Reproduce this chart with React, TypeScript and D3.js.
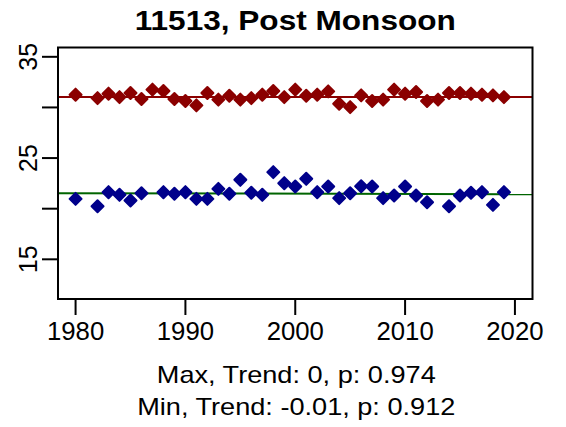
import React, { useEffect, useRef } from 'react';
import * as d3 from 'd3';

// yearly extremes, NaN where a year has no point
const years = d3.range(1980, 2020);
const maxTemp = [
  31.26, NaN, 30.92, 31.36, 31.02, 31.42, 30.83, 31.76, 31.62, 30.83,
  30.63, 30.2, 31.42, 30.77, 31.16, 30.77, 30.92, 31.26, 31.62, 31.02,
  31.76, 31.16, 31.26, 31.59, 30.37, 30.03, 31.19, 30.63, 30.77, 31.76,
  31.36, 31.52, 30.63, 30.77, 31.42, 31.42, 31.36, 31.26, 31.19, 31.02,
];
const minTemp = [
  20.97, NaN, 20.24, 21.63, 21.37, 20.81, 21.53, NaN, 21.63, 21.47,
  21.63, 20.97, 20.97, 21.96, 21.47, 22.85, 21.57, 21.37, 23.61, 22.52,
  22.19, 22.95, 21.63, 22.19, 21.04, 21.53, 22.22, 22.19, 21.04, 21.3,
  22.19, 21.3, 20.64, NaN, 20.24, 21.3, 21.57, 21.63, 20.38, 21.63,
];
// fitted trend lines, value at the left and right edge of the plot
const maxTrend = [31.03, 31.03];
const minTrend = [21.53, 21.43];

const xTicks = [1980, 1990, 2000, 2010, 2020];
const yTicks = [15, 20, 25, 30, 35];
const yLabels = [15, 25, 35];

const title = '11513, Post Monsoon';
const notes = ['Max, Trend: 0, p: 0.974', 'Min, Trend: -0.01, p: 0.912'];

const W = 566, H = 427;
const margin = { top: 47.5, right: 33.5, bottom: 128, left: 58 };
const font = '"Liberation Sans", Arial, sans-serif';

const drawChart = (node: SVGSVGElement) => {
  const svg = d3.select(node);
  svg.selectAll('*').remove();

  const x = d3.scaleLinear().domain([1978.4, 2021.6]).range([margin.left, W - margin.right]);
  const y = d3.scaleLinear().domain([11.08, 35.92]).range([H - margin.bottom, margin.top]);
  const cx = (margin.left + W - margin.right) / 2;

  const plot = svg.append('g');

  // trend lines
  const addTrend = (vals: number[], color: string) => {
    plot.append('line')
      .attr('x1', x(1978.4)).attr('x2', x(2021.6))
      .attr('y1', y(vals[0])).attr('y2', y(vals[1]))
      .attr('stroke', color).attr('stroke-width', 2);
  };
  addTrend(maxTrend, '#8B0000');
  addTrend(minTrend, '#006400');

  const diamond = (px: number, py: number) => {
    const r = 6;
    return `M${px},${py - r}L${px + r},${py}L${px},${py + r}L${px - r},${py}Z`;
  };

  const addPoints = (vals: number[], color: string) => {
    plot.selectAll(null)
      .data(years.map((yr, i) => ({ yr, v: vals[i] })).filter(d => !isNaN(d.v)))
      .enter()
      .append('path')
      .attr('d', d => diamond(x(d.yr), y(d.v)))
      .attr('fill', color)
      .attr('stroke', color)
      .attr('stroke-width', 2)
      .attr('stroke-linejoin', 'round');
  };
  addPoints(maxTemp, '#8B0000');
  addPoints(minTemp, '#00008B');

  // box
  svg.append('rect')
    .attr('x', margin.left).attr('y', margin.top)
    .attr('width', W - margin.left - margin.right)
    .attr('height', H - margin.top - margin.bottom)
    .attr('fill', 'none').attr('stroke', '#000').attr('stroke-width', 2);

  const bottom = H - margin.bottom;

  // x axis
  svg.selectAll(null).data(xTicks).enter().append('line')
    .attr('x1', d => x(d)).attr('x2', d => x(d))
    .attr('y1', bottom).attr('y2', bottom + 16)
    .attr('stroke', '#000').attr('stroke-width', 2);
  svg.selectAll(null).data(xTicks).enter().append('text')
    .attr('transform', d => `translate(${x(d)},339.5) scale(1.03,1)`)
    .attr('text-anchor', 'middle')
    .style('font-family', font).style('font-size', '25px')
    .text(d => d);

  // y axis
  svg.selectAll(null).data(yTicks).enter().append('line')
    .attr('x1', margin.left - 16).attr('x2', margin.left)
    .attr('y1', d => y(d)).attr('y2', d => y(d))
    .attr('stroke', '#000').attr('stroke-width', 2);
  svg.selectAll(null).data(yLabels).enter().append('text')
    .attr('transform', d => `translate(36.5,${y(d)}) rotate(-90)`)
    .attr('text-anchor', 'middle')
    .style('font-family', font).style('font-size', '25px')
    .text(d => d);

  svg.append('text')
    .attr('transform', `translate(${cx},29.5) scale(1.17,1)`)
    .attr('text-anchor', 'middle')
    .style('font-family', font).style('font-size', '27px').style('font-weight', 'bold')
    .text(title);

  svg.selectAll(null).data(notes).enter().append('text')
    .attr('transform', (d, i) => `translate(${cx + 1},${383 + i * 32}) scale(1.18,1)`)
    .attr('text-anchor', 'middle')
    .style('font-family', font).style('font-size', '23px')
    .text(d => d);
};

export default function App() {
  const ref = useRef<SVGSVGElement>(null);
  useEffect(() => {
    if (ref.current) drawChart(ref.current);
  }, []);
  return (
    <svg
      ref={ref}
      width={W}
      height={H}
      style={{ position: 'absolute', left: 0, top: 0, background: '#fff' }}
    />
  );
}
